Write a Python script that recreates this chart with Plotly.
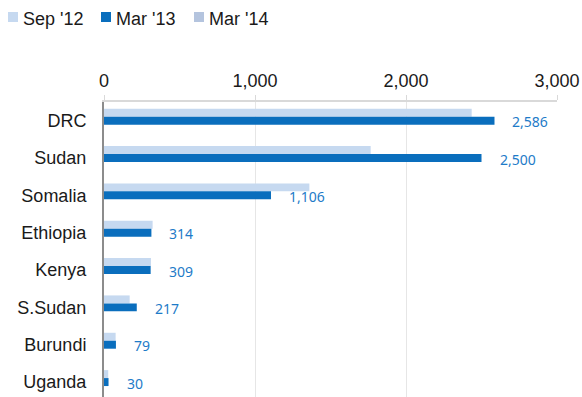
import plotly.graph_objects as go

categories = ["DRC", "Sudan", "Somalia", "Ethiopia", "Kenya", "S.Sudan", "Burundi", "Uganda"]
sep12 = [2435, 1766, 1360, 322, 311, 170, 77, 28]
mar13 = [2586, 2500, 1106, 314, 309, 217, 79, 30]
mar14 = [None] * 8
series_names = ["Sep '12", "Mar '13", "Mar '14"]
series_colors = ["#c6d9f0", "#0a6ebd", "#b4c4de"]
x_ticks = [0, 1000, 2000, 3000]
x_tick_labels = ["0", "1,000", "2,000", "3,000"]

W_FIG, H_FIG = 582, 397
M_L, M_R, M_T, M_B = 104, 25, 102, 0
PW = W_FIG - M_L - M_R
PH = H_FIG - M_T - M_B


def px2x(px):
    return (px - M_L) / PW


def py2y(py):
    return 1 - (py - M_T) / PH


fig = go.Figure()
for name, vals, col in zip(series_names, [sep12, mar13, mar14], series_colors):
    fig.add_trace(go.Bar(y=categories, x=vals, name=name, orientation="h",
                         showlegend=False, hoverinfo="skip",
                         marker=dict(color=col, line=dict(width=0))))

for cat, v in zip(categories, mar13):
    fig.add_annotation(x=v, y=cat, text=f"{v:,}", showarrow=False,
                       xanchor="left", xshift=16, yshift=-1,
                       font=dict(family="Noto Sans", size=14, color="#1e7bc8"))

# custom legend (top-left)
legend_step = 93
for i, (name, col) in enumerate(zip(series_names, series_colors)):
    x0 = 8 + i * legend_step
    fig.add_shape(type="rect", xref="paper", yref="paper",
                  x0=px2x(x0), x1=px2x(x0 + 10), y0=py2y(22), y1=py2y(12),
                  fillcolor=col, line=dict(width=0))
    fig.add_annotation(xref="paper", yref="paper", x=px2x(x0 + 13), y=py2y(19),
                       text=name, showarrow=False, xanchor="left", yanchor="middle",
                       font=dict(family="Liberation Sans, Arial, sans-serif", size=18,
                                 color="#1a1a1a"))

fig.update_layout(
    width=W_FIG, height=H_FIG,
    margin=dict(l=M_L, r=M_R, t=M_T, b=M_B, autoexpand=False),
    paper_bgcolor="white", plot_bgcolor="white",
    barmode="group", bargap=0.36, bargroupgap=0,
    showlegend=False,
    font=dict(family="Liberation Sans, Arial, sans-serif", size=18, color="#1a1a1a"),
    xaxis=dict(side="top", range=[0, 3000], tickvals=x_ticks, ticktext=x_tick_labels,
               showgrid=True, gridcolor="#e6e6e6", gridwidth=1,
               showline=True, linecolor="#d9d9d9", linewidth=2,
               ticks="outside", ticklen=5, tickcolor="#d9d9d9",
               ticklabelstandoff=1, zeroline=False, automargin=False,
               tickfont=dict(size=18, color="#1a1a1a")),
    yaxis=dict(categoryorder="array", categoryarray=categories,
               range=[7.4, -0.5], showgrid=False, zeroline=False,
               showline=True, linecolor="#8c8c8c", linewidth=2,
               ticks="", ticklabelstandoff=12, automargin=False,
               tickfont=dict(size=18, color="#1a1a1a")),
)

fig.write_html("out.html", config={"displayModeBar": False},
               post_script="document.body.style.margin='0px';")
